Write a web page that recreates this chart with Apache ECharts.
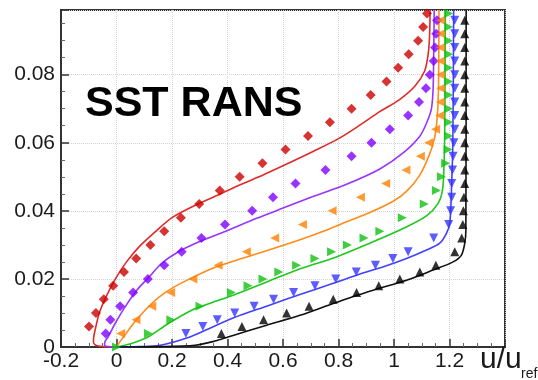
<!DOCTYPE html>
<html>
<head>
<meta charset="utf-8">
<script src="https://cdn.jsdelivr.net/npm/echarts@6/dist/echarts.min.js"></script>
<style>
  html, body { margin: 0; padding: 0; background: #fff; }
  #chart { width: 538px; height: 380px; }
</style>
</head>
<body>
<div id="chart"></div>
<script>
// Axis ticks
const xTicks = [-0.2, 0, 0.2, 0.4, 0.6, 0.8, 1, 1.2];
const yTicks = [0, 0.02, 0.04, 0.06, 0.08];

// Measured profiles (symbols): u/u_ref and wall distance
const redY = [0.006, 0.010, 0.014, 0.018, 0.022, 0.026, 0.030, 0.034, 0.038, 0.042, 0.046, 0.050,
              0.054, 0.058, 0.062, 0.066, 0.070, 0.074, 0.078, 0.082, 0.086, 0.090, 0.094, 0.098];
const redU = [-0.099, -0.074, -0.046, -0.012, 0.027, 0.071, 0.122, 0.172, 0.232, 0.298, 0.372, 0.444,
              0.526, 0.609, 0.690, 0.769, 0.847, 0.916, 0.973, 1.015, 1.053, 1.087, 1.105, 1.119];

const purpleY = [0.004, 0.008, 0.012, 0.016, 0.020, 0.024, 0.028, 0.032, 0.036, 0.040, 0.044, 0.048,
                 0.052, 0.056, 0.060, 0.064, 0.068, 0.072, 0.076, 0.080, 0.084, 0.088, 0.092, 0.096];
const purpleU = [-0.039, -0.022, 0.013, 0.060, 0.113, 0.172, 0.235, 0.306, 0.391, 0.489, 0.564, 0.645,
                 0.753, 0.847, 0.919, 0.985, 1.051, 1.090, 1.115, 1.129, 1.143, 1.148, 1.152, 1.155];

const orangeY = [0.004, 0.008, 0.012, 0.016, 0.020, 0.024, 0.028, 0.032, 0.036, 0.040, 0.044, 0.048,
                 0.052, 0.056, 0.060, 0.064, 0.068, 0.072, 0.076, 0.080, 0.084, 0.088, 0.092, 0.096];
const orangeU = [0.015, 0.070, 0.127, 0.195, 0.275, 0.366, 0.468, 0.570, 0.670, 0.777, 0.879, 0.970,
                 1.043, 1.095, 1.125, 1.150, 1.165, 1.167, 1.168, 1.168, 1.168, 1.168, 1.168, 1.168];

const greenY = [0.000, 0.004, 0.008, 0.012, 0.016, 0.018, 0.020, 0.022, 0.024, 0.026, 0.028, 0.030,
                0.032, 0.034, 0.038, 0.042, 0.046, 0.050, 0.054, 0.058, 0.062, 0.066, 0.070, 0.074,
                0.078, 0.082, 0.086, 0.090, 0.094, 0.098];
const greenU = [0.000, 0.115, 0.196, 0.301, 0.414, 0.474, 0.528, 0.585, 0.649, 0.715, 0.775, 0.832,
                0.892, 0.949, 1.030, 1.109, 1.153, 1.171, 1.186, 1.195, 1.197, 1.197, 1.197, 1.197,
                1.197, 1.197, 1.197, 1.197, 1.197, 1.197];

const blueY = [0.004, 0.006, 0.008, 0.010, 0.012, 0.014, 0.016, 0.018, 0.020, 0.022, 0.024, 0.026,
               0.028, 0.032, 0.036, 0.040, 0.044, 0.048, 0.052, 0.056, 0.060, 0.064, 0.068, 0.072,
               0.076, 0.080, 0.084, 0.088, 0.092, 0.096];
const blueU = [0.250, 0.311, 0.363, 0.426, 0.496, 0.566, 0.638, 0.715, 0.790, 0.864, 0.933, 0.996,
               1.051, 1.143, 1.197, 1.204, 1.208, 1.208, 1.211, 1.213, 1.216, 1.219, 1.219, 1.219,
               1.219, 1.219, 1.219, 1.219, 1.219, 1.219];

const blackY = [0.004, 0.006, 0.008, 0.010, 0.012, 0.014, 0.016, 0.018, 0.020, 0.022, 0.024, 0.028,
                0.032, 0.036, 0.040, 0.044, 0.048, 0.052, 0.056, 0.060, 0.064, 0.068, 0.072, 0.076,
                0.080, 0.084, 0.088, 0.092, 0.096];
const blackU = [0.378, 0.452, 0.530, 0.613, 0.694, 0.781, 0.865, 0.945, 1.021, 1.093, 1.151, 1.219,
                1.244, 1.248, 1.250, 1.252, 1.255, 1.255, 1.255, 1.255, 1.255, 1.255, 1.255, 1.255,
                1.255, 1.255, 1.255, 1.255, 1.255];

// SST RANS predictions (solid lines): [u/u_ref, y]
const redLine = [[0.000, 0.0000], [-0.050, 0.0001], [-0.075, 0.0005], [-0.083, 0.0015], [-0.082, 0.0030],
  [-0.077, 0.0050], [-0.062, 0.0100], [-0.036, 0.0150], [-0.004, 0.0200], [0.036, 0.0250], [0.082, 0.0295],
  [0.135, 0.0335], [0.200, 0.0380], [0.280, 0.0415], [0.370, 0.0448], [0.450, 0.0478], [0.530, 0.0506],
  [0.620, 0.0540], [0.710, 0.0575], [0.800, 0.0612], [0.870, 0.0648], [0.950, 0.0692], [1.020, 0.0727],
  [1.075, 0.0766], [1.110, 0.0810], [1.123, 0.0860], [1.128, 0.0910], [1.130, 0.0990]];

const purpleLine = [[0.000, 0.0000], [-0.030, 0.0001], [-0.043, 0.0006], [-0.042, 0.0015], [-0.030, 0.0030],
  [-0.005, 0.0069], [0.031, 0.0118], [0.073, 0.0167], [0.118, 0.0206], [0.163, 0.0246], [0.223, 0.0280],
  [0.300, 0.0310], [0.384, 0.0337], [0.505, 0.0378], [0.600, 0.0408], [0.708, 0.0442], [0.829, 0.0478],
  [0.949, 0.0523], [1.033, 0.0570], [1.093, 0.0619], [1.120, 0.0663], [1.135, 0.0700], [1.141, 0.0760],
  [1.143, 0.0860], [1.145, 0.0990]];

const orangeLine = [[0.000, 0.0000], [0.012, 0.0015], [0.030, 0.0035], [0.061, 0.0069], [0.103, 0.0108],
  [0.151, 0.0145], [0.205, 0.0175], [0.271, 0.0203], [0.343, 0.0230], [0.420, 0.0252], [0.541, 0.0283],
  [0.661, 0.0315], [0.745, 0.0340], [0.829, 0.0368], [0.913, 0.0395], [0.997, 0.0428], [1.045, 0.0457],
  [1.093, 0.0505], [1.125, 0.0560], [1.145, 0.0610], [1.155, 0.0668], [1.160, 0.0750], [1.162, 0.0990]];

const greenLine = [[0.000, 0.0000], [0.030, 0.0005], [0.070, 0.0015], [0.115, 0.0030], [0.187, 0.0069],
  [0.271, 0.0108], [0.343, 0.0130], [0.420, 0.0152], [0.550, 0.0194], [0.670, 0.0232], [0.790, 0.0264],
  [0.913, 0.0305], [1.033, 0.0348], [1.117, 0.0385], [1.159, 0.0422], [1.175, 0.0462], [1.180, 0.0530],
  [1.183, 0.0650], [1.185, 0.0990]];

const blueLine = [[0.000, 0.0000], [0.080, 0.0001], [0.163, 0.0006], [0.259, 0.0028], [0.320, 0.0049],
  [0.420, 0.0085], [0.541, 0.0120], [0.661, 0.0154], [0.781, 0.0187], [0.880, 0.0215], [0.970, 0.0238],
  [1.045, 0.0260], [1.117, 0.0285], [1.165, 0.0305], [1.189, 0.0334], [1.201, 0.0363], [1.207, 0.0460],
  [1.212, 0.0600], [1.215, 0.0990]];

const blackLine = [[0.000, 0.0000], [0.150, 0.0001], [0.283, 0.0005], [0.343, 0.0015], [0.420, 0.0034],
  [0.541, 0.0064], [0.661, 0.0093], [0.781, 0.0128], [0.841, 0.0145], [0.925, 0.0167], [1.045, 0.0196],
  [1.141, 0.0226], [1.213, 0.0250], [1.243, 0.0270], [1.255, 0.0305], [1.259, 0.0344], [1.260, 0.0990]];

const zip = (us, ys) => us.map((u, i) => [u, ys[i]]);
const fmt = v => String(+v.toFixed(2));
const FONT = 'Liberation Sans, Arial, sans-serif';

function lineSeries(data, color) {
  return {
    type: 'line', data, showSymbol: false, smooth: 0.3, silent: true,
    lineStyle: { color, width: 1.6 }, z: 2
  };
}
function markSeries(data, color, symbol, size, rotate) {
  return {
    type: 'scatter', data, symbol, symbolSize: size, symbolRotate: rotate || 0,
    itemStyle: { color }, silent: true, z: 3
  };
}

const chart = echarts.init(document.getElementById('chart'), null, { renderer: 'canvas' });

const axisCommon = {
  type: 'value',
  axisLine: { show: true, onZero: false, lineStyle: { color: '#333', width: 2 } },
  axisTick: { show: true, inside: true, length: 8, lineStyle: { color: '#333', width: 1.5 } },
  minorTick: { show: true, splitNumber: 4, length: 4, lineStyle: { color: '#666', width: 1 } },
  splitLine: { show: true, lineStyle: { color: '#d4d4d4', type: 'dotted', width: 1 } }
};

chart.setOption({
  animation: false,
  backgroundColor: '#ffffff',
  grid: { left: 61, right: 33, top: 10, bottom: 33, show: true, borderColor: '#333', borderWidth: 2 },
  xAxis: Object.assign({}, axisCommon, {
    min: -0.2, max: 1.4, interval: 0.2,
    axisLabel: {
      fontSize: 21, color: '#1a1a1a', margin: 4, fontFamily: FONT,
      formatter: v => xTicks.some(t => Math.abs(t - v) < 1e-9) ? fmt(v) : ''
    }
  }),
  yAxis: Object.assign({}, axisCommon, {
    min: 0, max: 0.099, interval: 0.02,
    axisLabel: {
      fontSize: 21, color: '#1a1a1a', margin: 6, fontFamily: FONT,
      formatter: v => yTicks.some(t => Math.abs(t - v) < 1e-9) ? fmt(v) : ''
    }
  }),
  graphic: [
    { type: 'text', x: 85, y: 104, z: 10,
      style: { text: 'SST RANS', fontSize: 43, fontWeight: 'bold', fontFamily: FONT, fill: '#000',
               textAlign: 'left', textVerticalAlign: 'middle', align: 'left', verticalAlign: 'middle' } },
    { type: 'text', x: 480, y: 360, z: 10,
      style: { text: 'u/u', fontSize: 30, fontFamily: FONT, fill: '#1a1a1a',
               textAlign: 'left', textVerticalAlign: 'middle', align: 'left', verticalAlign: 'middle' } },
    { type: 'text', x: 521, y: 374, z: 10,
      style: { text: 'ref', fontSize: 14, fontFamily: FONT, fill: '#1a1a1a',
               textAlign: 'left', textVerticalAlign: 'middle', align: 'left', verticalAlign: 'middle' } }
  ],
  series: [
    lineSeries(redLine, '#e02a2a'),
    lineSeries(purpleLine, '#9933ff'),
    lineSeries(orangeLine, '#ff8c1a'),
    lineSeries(greenLine, '#1ec81e'),
    lineSeries(blueLine, '#4040ff'),
    lineSeries(blackLine, '#111111'),
    markSeries(zip(redU, redY), '#cc0000', 'diamond', 10),
    markSeries(zip(purpleU, purpleY), '#8000ff', 'diamond', 10),
    markSeries(zip(orangeU, orangeY), '#ff8000', 'triangle', 9, 90),
    markSeries(zip(greenU, greenY), '#10c010', 'triangle', 9, -90),
    markSeries(zip(blueU, blueY), '#3333ff', 'triangle', 9, 180),
    markSeries(zip(blackU, blackY), '#000000', 'triangle', 9, 0)
  ]
});
</script>
</body>
</html>
